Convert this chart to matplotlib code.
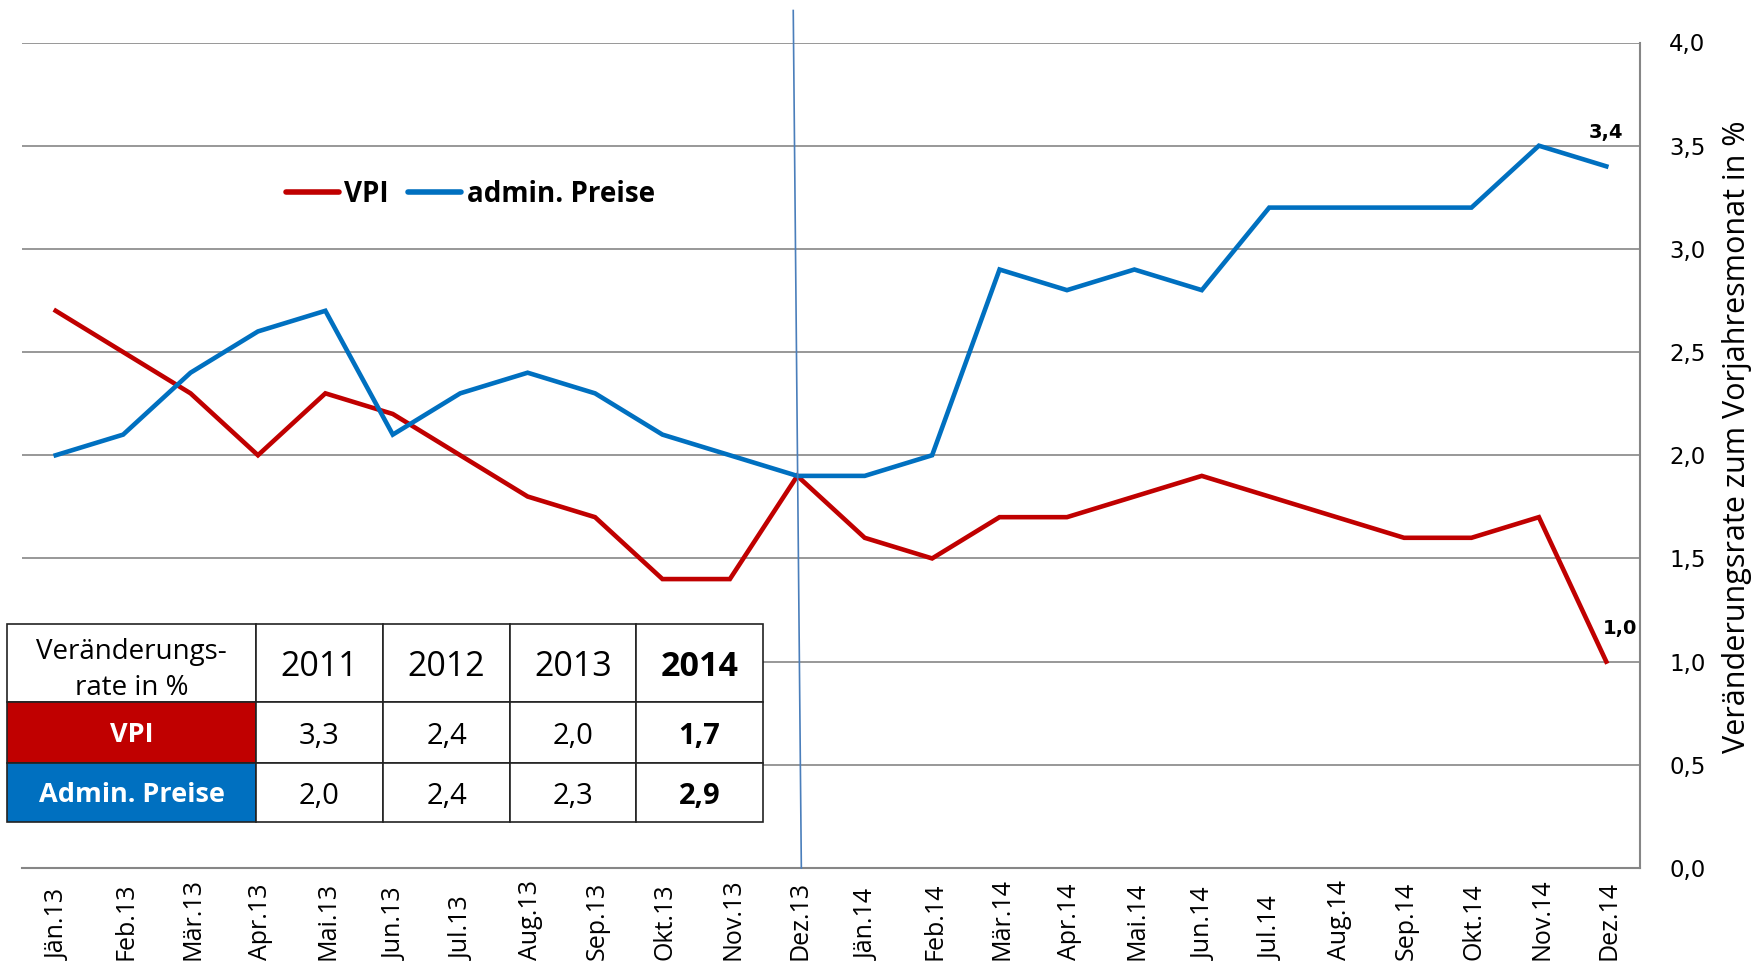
import matplotlib
matplotlib.use('Agg')
import matplotlib.pyplot as plt
from matplotlib import font_manager as fm
from matplotlib.transforms import blended_transform_factory

# ---------------- data ----------------
months = ['Jän.13', 'Feb.13', 'Mär.13', 'Apr.13', 'Mai.13', 'Jun.13', 'Jul.13', 'Aug.13',
          'Sep.13', 'Okt.13', 'Nov.13', 'Dez.13', 'Jän.14', 'Feb.14', 'Mär.14', 'Apr.14',
          'Mai.14', 'Jun.14', 'Jul.14', 'Aug.14', 'Sep.14', 'Okt.14', 'Nov.14', 'Dez.14']
vpi = [2.7, 2.5, 2.3, 2.0, 2.3, 2.2, 2.0, 1.8, 1.7, 1.4, 1.4, 1.9,
       1.6, 1.5, 1.7, 1.7, 1.8, 1.9, 1.8, 1.7, 1.6, 1.6, 1.7, 1.0]
admin = [2.0, 2.1, 2.4, 2.6, 2.7, 2.1, 2.3, 2.4, 2.3, 2.1, 2.0, 1.9,
         1.9, 2.0, 2.9, 2.8, 2.9, 2.8, 3.2, 3.2, 3.2, 3.2, 3.5, 3.4]
yticks = [0.0, 0.5, 1.0, 1.5, 2.0, 2.5, 3.0, 3.5, 4.0]
table_header = ['Veränderungs-\nrate in %', '2011', '2012', '2013', '2014']
table_vpi = ['VPI', '3,3', '2,4', '2,0', '1,7']
table_admin = ['Admin. Preise', '2,0', '2,4', '2,3', '2,9']
marker_month = 'Dez.13'

RED = '#C00000'
BLUE = '#0070C0'
GRID = '#868686'

names = {f.name for f in fm.fontManager.ttflist}
def pick(*cands):
    for c in cands:
        if c in names:
            return c
    return 'DejaVu Sans'
NARROW = pick('Liberation Sans Narrow', 'Open Sans', 'Lato')
WIDE = pick('DejaVu Sans')

fmt = lambda v: f"{v:.1f}".replace('.', ',')

fig = plt.figure(figsize=(17.56, 9.67), dpi=100)
W, H = 1756, 967
L, R, T, B = 22, 1640, 42.5, 868
ax = fig.add_axes([L / W, 1 - B / H, (R - L) / W, (B - T) / H])

x = list(range(len(months)))
ax.plot(x, vpi, color=RED, lw=3.3, solid_joinstyle='miter', label='VPI', zorder=4)
ax.plot(x, admin, color=BLUE, lw=3.3, solid_joinstyle='miter', label='admin. Preise', zorder=4)

ax.set_xlim(-0.5, len(months) - 0.5)
ax.set_ylim(0, 4.0)

# vertical marker line at Dez.13 (slightly slanted as in the reference)
mi = months.index(marker_month)
ax.plot([mi - 0.06, mi + 0.06], [4.155, 0.0], color='#4A7EBB', lw=1.2,
        clip_on=False, zorder=5)

ax.set_yticks(yticks)
ax.set_yticklabels([fmt(v) for v in yticks], fontsize=16.5, family=WIDE)
ax.yaxis.tick_right()
ax.tick_params(axis='y', length=0, pad=21)
ax.grid(axis='y', color=GRID, lw=1.2)
ax.set_axisbelow(True)

# x labels: rotated, aligned at their start near the bottom edge
ax.set_xticks(x)
ax.set_xticklabels([])
ax.tick_params(axis='x', length=0)
trans = blended_transform_factory(ax.transData, ax.transAxes)
y_lab = (B - 960) / (B - T)
for i, m in zip(x, months):
    ax.text(i + 0.04, y_lab, m, transform=trans, rotation=90, rotation_mode='anchor',
            ha='left', va='center', fontsize=18, family=NARROW, clip_on=False)

for s in ['left', 'top']:
    ax.spines[s].set_visible(False)
ax.spines['right'].set_color(GRID)
ax.spines['right'].set_linewidth(1.5)
ax.spines['bottom'].set_color(GRID)
ax.spines['bottom'].set_linewidth(1.5)

ax.yaxis.set_label_position('right')
ax.set_ylabel('Veränderungsrate zum Vorjahresmonat in %', fontsize=22, family=NARROW,
              rotation=90, va='center', ha='center')
ax.yaxis.set_label_coords((1737 - L) / (R - L), (B - 437) / (B - T))

# end labels
ax.annotate(fmt(admin[-1]), (x[-1], admin[-1]), xytext=(0, 24), textcoords='offset points',
            ha='center', va='center', fontsize=14, fontweight='bold', family=WIDE)
ax.annotate(fmt(vpi[-1]), (x[-1], vpi[-1]), xytext=(10, 24), textcoords='offset points',
            ha='center', va='center', fontsize=14, fontweight='bold', family=WIDE)

# legend
leg = ax.legend(loc='center left', bbox_to_anchor=((286 - L) / (R - L), (B - 194) / (B - T)),
                ncol=2, frameon=False, borderpad=0, borderaxespad=0,
                handlelength=1.9, handletextpad=0.2, columnspacing=0.7,
                prop={'family': NARROW, 'weight': 'bold', 'size': 20})
for h in leg.get_lines():
    h.set_linewidth(4)
    h.set_solid_capstyle('round')

# table
rows = [table_header, table_vpi, table_admin]
col_w = [249, 127, 127, 126, 127]
row_h = [78, 61, 59]
tb = ax.table(cellText=rows, cellLoc='center',
              bbox=[(7 - L) / (R - L), (B - 822) / (B - T), (763 - 7) / (R - L), (822 - 624) / (B - T)])
tb.auto_set_font_size(False)
for (r, c), cell in tb.get_celld().items():
    cell.set_width(col_w[c])
    cell.set_height(row_h[r])
    cell.set_edgecolor('#222222')
    cell.set_linewidth(1.2)
    cell.set_facecolor('white')
    t = cell.get_text()
    t.set_family(NARROW)
    t.set_va('center_baseline')
    if r == 0:
        t.set_fontsize(24.5 if c > 0 else 20)
        t.set_linespacing(1.35)
        if c == 4:
            t.set_fontweight('bold')
    else:
        t.set_fontsize(21)
        if c == 4:
            t.set_fontweight('bold')
        if c == 0:
            cell.set_facecolor(RED if r == 1 else BLUE)
            t.set_color('white')
            t.set_fontweight('bold')
            t.set_fontsize(19.5)
tb.set_zorder(6)

fig.savefig('out.png', dpi=100)
